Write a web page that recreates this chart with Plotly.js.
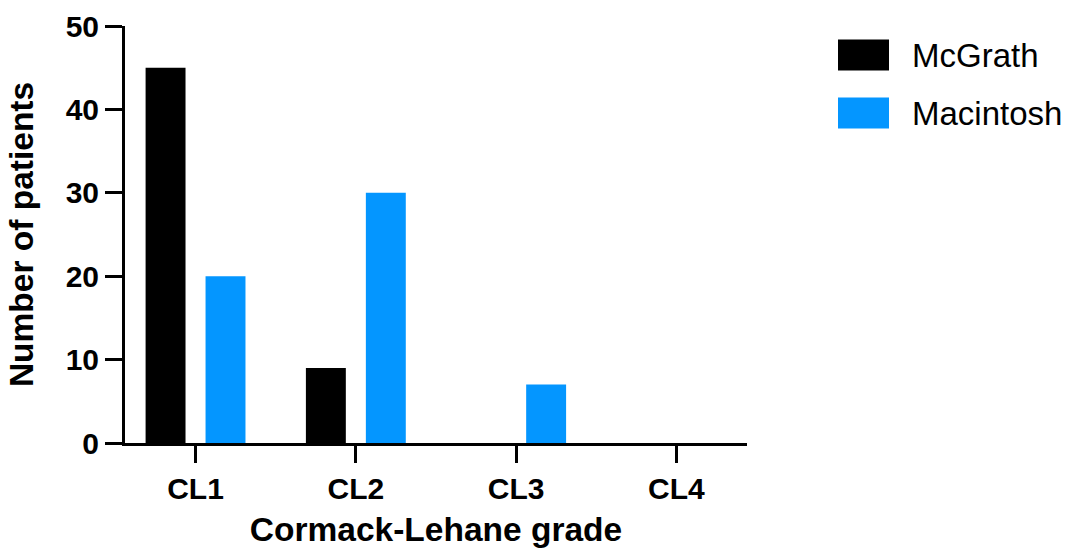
<!DOCTYPE html>
<html>
<head>
<meta charset="utf-8">
<script src="https://cdn.plot.ly/plotly-3.0.1.min.js"></script>
<style>html,body{margin:0;padding:0;background:#fff;}#chart{width:1067px;height:551px;}</style>
</head>
<body>
<div id="chart"></div>
<script>
const categories = ["CL1", "CL2", "CL3", "CL4"];
const seriesNames = ["McGrath", "Macintosh"];
const mcgrath = [45, 9, 0, 0];
const macintosh = [20, 30, 7, 0];
const yTicks = [0, 10, 20, 30, 40, 50];
const colors = ["#000000", "#0496FF"];

const font = "Liberation Sans, Arial, Helvetica, sans-serif";
const traces = [mcgrath, macintosh].map((vals, i) => ({
  type: "bar",
  name: seriesNames[i],
  x: categories,
  y: vals,
  marker: {color: colors[i], line: {width: 0}},
  showlegend: false,
  hoverinfo: "x+y+name"
}));

// legend built from series names
const shapes = [];
const annotations = [];
seriesNames.forEach((n, i) => {
  const yc = 1 - (55 - 26 + i * 58) / 417;
  shapes.push({type: "rect", xref: "paper", yref: "paper",
    x0: (838 - 125) / 622, x1: (889 - 125) / 622,
    y0: yc - 15.5 / 417, y1: yc + 15.5 / 417,
    fillcolor: colors[i], line: {width: 0}});
  annotations.push({xref: "paper", yref: "paper", x: (910 - 125) / 622, y: yc,
    xanchor: "left", yanchor: "middle", text: n, showarrow: false,
    font: {family: font, size: 33, color: "#000"}});
});

const layout = {
  width: 1067, height: 551,
  margin: {l: 125, r: 320, t: 26, b: 108, pad: 0},
  paper_bgcolor: "#fff", plot_bgcolor: "#fff",
  barmode: "group", bargap: 0.252, bargroupgap: 0.334,
  font: {family: font, color: "#000"},
  xaxis: {
    range: [-0.44, 3.44], showgrid: false, zeroline: false,
    showline: true, linecolor: "#000", linewidth: 3,
    ticks: "outside", ticklen: 17, tickwidth: 3, tickcolor: "#000",
    tickfont: {family: font, size: 30, weight: "bold"},
    title: {text: "<b>Cormack-Lehane grade</b>", font: {family: font, size: 33.5}, standoff: 14}
  },
  yaxis: {
    range: [0, 50], tickvals: yTicks, showgrid: false, zeroline: false,
    showline: true, linecolor: "#000", linewidth: 3,
    ticks: "outside", ticklen: 17, tickwidth: 3, tickcolor: "#000",
    tickfont: {family: font, size: 30, weight: "bold"},
    title: {text: "<b>Number of patients</b>", font: {family: font, size: 33.5}, standoff: 22}
  },
  shapes: shapes,
  annotations: annotations,
  showlegend: false
};
Plotly.newPlot("chart", traces, layout, {displayModeBar: false, staticPlot: true});
</script>
</body>
</html>
